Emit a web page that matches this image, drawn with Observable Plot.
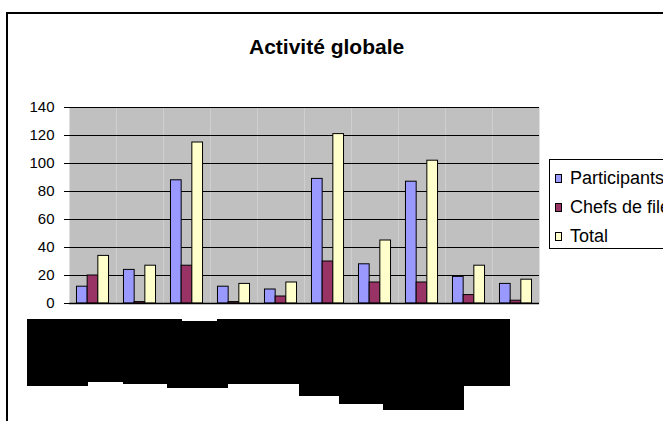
<!DOCTYPE html>
<html>
<head>
<meta charset="utf-8">
<script src="https://cdn.jsdelivr.net/npm/d3@7"></script>
<script src="https://cdn.jsdelivr.net/npm/@observablehq/plot@0.6"></script>
<style>
  html, body { margin: 0; padding: 0; background: #fff; }
  #page { position: relative; width: 663px; height: 421px; overflow: hidden; background: #fff; font-family: "Liberation Sans", Arial, sans-serif; }
  #chart { position: absolute; left: 0; top: 0; }
  #frame { position: absolute; left: 6px; top: 12px; width: 760px; height: 520px; border: 2px solid #000; box-sizing: border-box; }
  #title { position: absolute; left: 249px; top: 36px; font-size: 21px; line-height: 21px; font-weight: bold; color: #000; white-space: nowrap; }
  #legend { position: absolute; left: 549px; top: 159px; width: 160px; height: 90px; border: 1px solid #000; background: #fff; box-sizing: border-box; }
  .item { position: absolute; left: 5px; height: 20px; display: flex; align-items: center; font-size: 18px; white-space: nowrap; color: #000; }
  .sw { width: 5px; height: 7px; border: 1px solid #000; margin-right: 8px; }
  #redact { position: absolute; left: 0; top: 0; }
</style>
</head>
<body>
<div id="page">
  <div id="chart"></div>
  <div id="title">Activité globale</div>
  <div id="legend"></div>
  <svg id="redact" width="663" height="421"></svg>
  <div id="frame"></div>
</div>
<script>
// Category labels are hidden (redacted) in the reference
const categories = ["Catégorie 1","Catégorie 2","Catégorie 3","Catégorie 4","Catégorie 5","Catégorie 6","Catégorie 7","Catégorie 8","Catégorie 9","Catégorie 10"];
const seriesNames = ["Participants", "Chefs de file", "Total"];
const participants = [12, 24, 88, 12, 10, 89, 28, 87, 19, 14];
const chefs =        [20,  1, 27,  1,  5, 30, 15, 15,  6,  2];
const total =        [34, 27, 115, 14, 15, 121, 45, 102, 27, 17];
const seriesColors = ["#9999ff", "#993366", "#ffffcc"];
const yTicks = [0, 20, 40, 60, 80, 100, 120, 140];

const seriesValues = [participants, chefs, total];
const rows = [];
categories.forEach((c, i) => {
  seriesNames.forEach((s, j) => rows.push({cat: c, serie: s, value: seriesValues[j][i]}));
});

const firstCat = categories[0];
const lastCat = categories[categories.length - 1];
const yMax = yTicks[yTicks.length - 1];

const chart = Plot.plot({
  width: 663,
  height: 421,
  marginLeft: 69,
  marginRight: 124,
  marginTop: 107,
  marginBottom: 118,
  style: {background: "transparent", fontFamily: "Liberation Sans, Arial, sans-serif", fontSize: "15px", color: "#000"},
  fx: {domain: categories, padding: 0, round: false, axis: null},
  x: {domain: seriesNames, paddingInner: 0, paddingOuter: 0.7, round: false, axis: null},
  y: {domain: [0, yMax], axis: null},
  color: {domain: seriesNames, range: seriesColors},
  marks: [
    Plot.frame({fill: "#c0c0c0", stroke: null}),
    Plot.gridY(yTicks, {stroke: "#000", strokeOpacity: 1, strokeWidth: 1}),
    // plot-area right border (grey)
    Plot.ruleX([lastCat], {fx: d => d, y1: 0, y2: yMax, dx: 23.5, stroke: "#808080", strokeWidth: 1}),
    Plot.barY(rows, {fx: "cat", x: "serie", y: "value", fill: "serie", stroke: "#000", strokeWidth: 1}),
    Plot.ruleY([0], {stroke: "#000", strokeWidth: 1.5}),
    // value axis line
    Plot.ruleX([firstCat], {fx: d => d, y1: 0, y2: yMax, dx: -23.5, stroke: "#000", strokeWidth: 1.5}),
    Plot.axisY(yTicks, {tickSize: 5, tickPadding: 10, fontSize: 15, stroke: "#000", fill: "#000", label: null}),
    // category separator ticks below the baseline
    Plot.ruleX(categories, {fx: d => d, y1: 0, y2: 0, insetBottom: -5, dx: -23.5, stroke: "#000", strokeWidth: 1.2}),
    Plot.ruleX([lastCat], {fx: d => d, y1: 0, y2: 0, insetBottom: -5, dx: 23.5, stroke: "#000", strokeWidth: 1.2})
  ]
});
document.getElementById("chart").appendChild(chart);

// Legend
const legend = document.getElementById("legend");
const rowsY = [8, 37, 66];
seriesNames.forEach((s, i) => {
  const it = document.createElement("div");
  it.className = "item";
  it.style.top = rowsY[i] + "px";
  const sw = document.createElement("span");
  sw.className = "sw";
  sw.style.background = seriesColors[i];
  const tx = document.createElement("span");
  tx.textContent = s;
  it.appendChild(sw);
  it.appendChild(tx);
  legend.appendChild(it);
});

// Redaction block covering the category labels (as in the reference)
const redactPts = [[27,319],[182,319],[182,321],[217,321],[217,319],[510,319],[510,386],[464,386],[464,410],[383,410],[383,404],[339,404],[339,396],[299,396],[299,384],[228,384],[228,388],[167,388],[167,384],[123,384],[123,382],[88,382],[88,386],[27,386]];
d3.select("#redact").append("path")
  .attr("d", "M" + redactPts.map(p => p.join(",")).join("L") + "Z")
  .attr("fill", "#000");
</script>
</body>
</html>
